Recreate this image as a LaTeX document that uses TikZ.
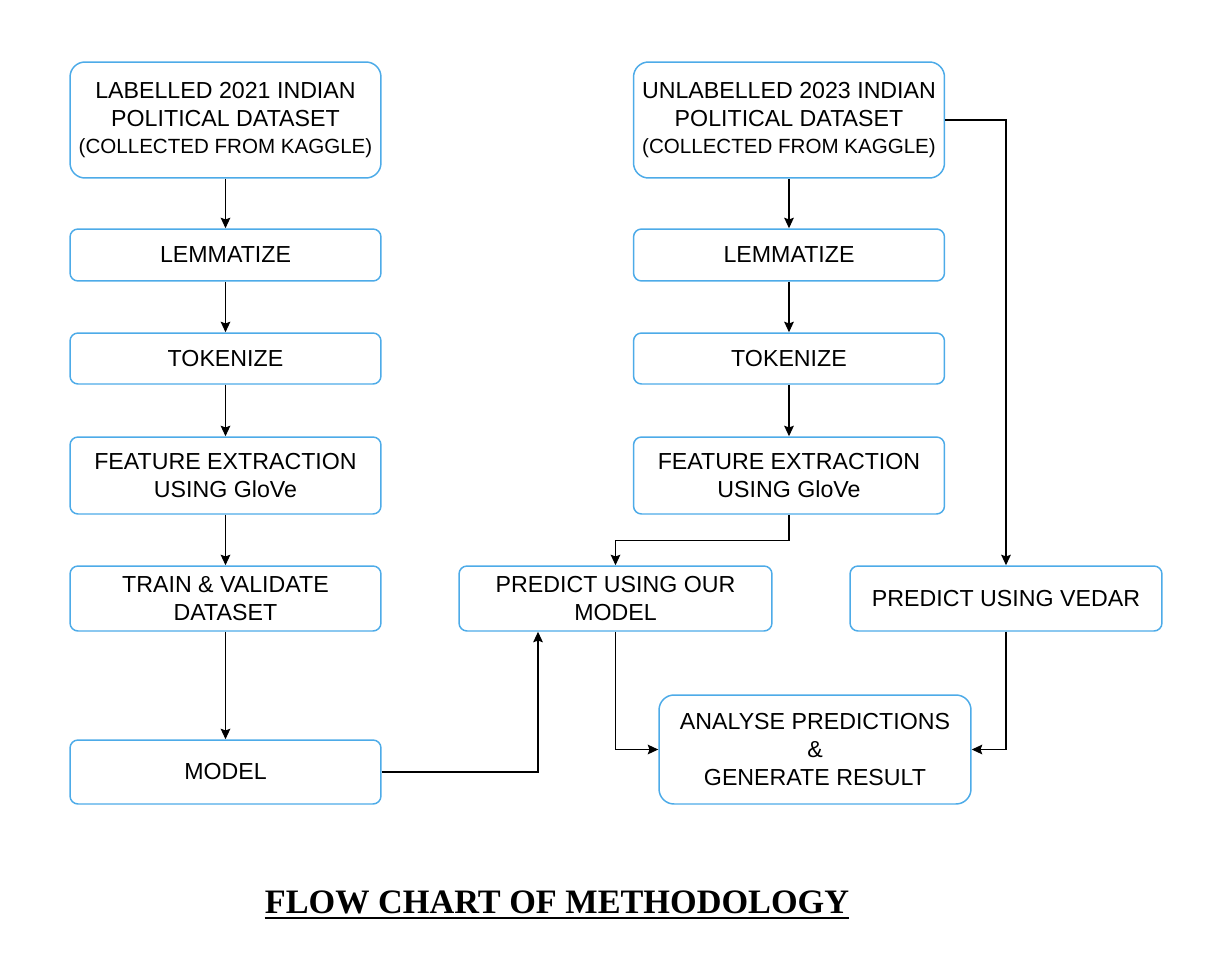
\documentclass[tikz,border=0pt]{standalone}
\usepackage{fontspec}
\setmainfont{Liberation Sans}
\newfontfamily\titlefont{Liberation Serif}
\usetikzlibrary{arrows.meta}
\definecolor{boxblue}{RGB}{77,171,232}
\newcommand{\srcnote}{\fontsize{11.7}{14}\selectfont}

\begin{document}
\begin{tikzpicture}[x=0.02cm, y=-0.02cm, main/.style={rectangle, rounded corners=0.16cm, draw=boxblue, line width=0.85pt, minimum width=6.22cm, align=center, inner sep=0pt, font=\fontsize{13.2}{15.9}\selectfont}, big/.style={main, rounded corners=0.3cm}, ar/.style={line width=0.75pt, -{Stealth[length=6pt, width=5.5pt, inset=1pt]}}]
      \useasboundingbox (0,0) rectangle (1206,966);
      \node[big, minimum height=2.32cm] (1) at (225.5,120) {LABELLED 2021 INDIAN\\POLITICAL DATASET\\[-1pt]{\srcnote(COLLECTED FROM KAGGLE)}};
      \node[main, minimum height=1.04cm] (2) at (225.5,255) {LEMMATIZE};
      \node[main, minimum height=1.02cm] (3) at (225.5,358.5) {TOKENIZE};
      \node[main, minimum height=1.54cm] (4) at (225.5,475.5) {FEATURE EXTRACTION\\USING GloVe};
      \node[main, minimum height=1.3cm] (5) at (225.5,598.5) {TRAIN \& VALIDATE\\DATASET};
      \node[main, minimum height=1.28cm] (6) at (225.5,772) {MODEL};
      \node[big, minimum height=2.32cm] (7) at (789,120) {UNLABELLED 2023 INDIAN\\POLITICAL DATASET\\[-1pt]{\srcnote(COLLECTED FROM KAGGLE)}};
      \node[main, minimum height=1.04cm] (8) at (789,255) {LEMMATIZE};
      \node[main, minimum height=1.02cm] (9) at (789,358.5) {TOKENIZE};
      \node[main, minimum height=1.54cm] (10) at (789,475.5) {FEATURE EXTRACTION\\USING GloVe};
      \node[main, minimum width=6.26cm, minimum height=1.3cm] (11) at (615.5,598.5) {PREDICT USING OUR\\MODEL};
      \node[main, minimum width=6.24cm, minimum height=1.3cm] (12) at (1006,598.5) {PREDICT USING VEDAR};
      \node[big, minimum width=6.24cm, minimum height=2.18cm] (13) at (815,749.5) {ANALYSE PREDICTIONS\\\&\\GENERATE RESULT};
      \node[inner sep=0pt, anchor=base, font=\titlefont\bfseries\fontsize{19.5}{23}\selectfont] (title) at (557,913) {FLOW CHART OF METHODOLOGY};
      \draw[line width=1.2pt] ([yshift=-0.1cm]title.base west) -- ([yshift=-0.1cm]title.base east);

      \draw[ar] (1) -- (2);
      \draw[ar] (2) -- (3);
      \draw[ar] (3) -- (4);
      \draw[ar] (4) -- (5);
      \draw[ar] (5) -- (6);
      \draw[ar] (7) -- (8);
      \draw[ar] (8) -- (9);
      \draw[ar] (9) -- (10);
      \draw[ar] (10.south) -- ++(0,26) -| (11.north);
      \draw[ar] (7.east) -| (12.north);
      \draw[ar] (6.east) -| ([xshift=-1.55cm]11.south);
      \draw[ar] (11.south) |- (13.west);
      \draw[ar] (12.south) |- (13.east);
    \end{tikzpicture}
\end{document}
